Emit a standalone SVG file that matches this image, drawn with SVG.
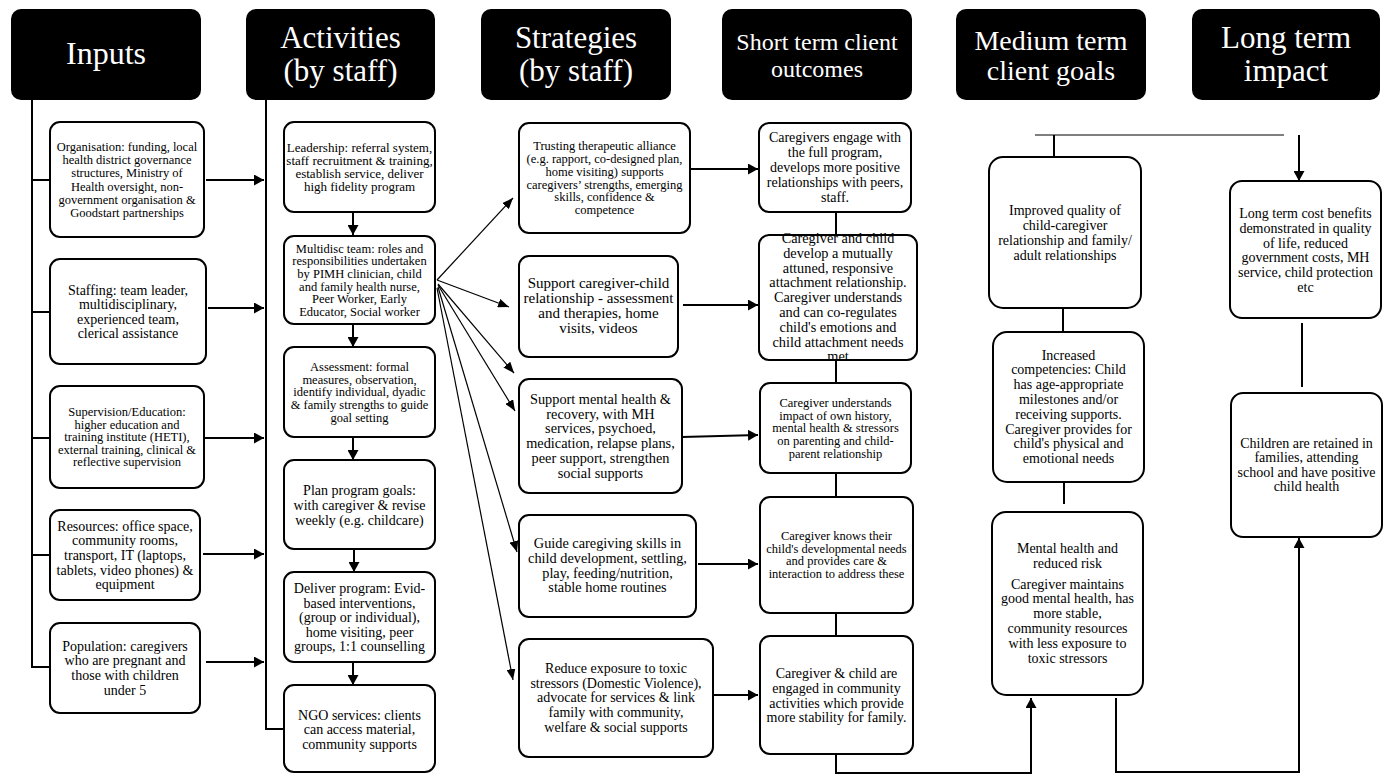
<svg xmlns="http://www.w3.org/2000/svg" width="1389" height="774" viewBox="0 0 1389 774">
<style>
.b{fill:#fff;stroke:#000;stroke-width:2}
.h{fill:#000}
text{font-family:"Liberation Serif","Times New Roman",serif;text-anchor:middle;fill:#000}
.ht{fill:#fff}
.c{fill:none;stroke:#000;stroke-width:2}
.f{fill:none;stroke:#000;stroke-width:1.2}
.g{fill:none;stroke:#000;stroke-width:1}
</style>
<defs>
<marker id="a" viewBox="0 0 10 10" refX="10" refY="5" markerWidth="10" markerHeight="11" markerUnits="userSpaceOnUse" orient="auto" preserveAspectRatio="none"><path d="M0,0 L10,5 L0,10 z"/></marker>
<marker id="s" viewBox="0 0 10 10" refX="10" refY="5" markerWidth="11" markerHeight="9" markerUnits="userSpaceOnUse" orient="auto" preserveAspectRatio="none"><path d="M0,0 L10,5 L0,10 z"/></marker>
</defs>
<rect width="1389" height="774" fill="#fff"/>

<g id="headers">
<g id="h-inputs"><rect class="h" x="11" y="9" width="190" height="91" rx="10"/><text class="ht" font-size="32" x="106" y="64">Inputs</text></g>
<g id="h-activities"><rect class="h" x="246" y="9" width="189" height="91" rx="10"/><text class="ht" font-size="31"><tspan x="340.5" y="48">Activities</tspan><tspan x="340.5" y="81">(by staff)</tspan></text></g>
<g id="h-strategies"><rect class="h" x="481" y="9" width="190" height="91" rx="10"/><text class="ht" font-size="31"><tspan x="576" y="48">Strategies</tspan><tspan x="576" y="81">(by staff)</tspan></text></g>
<g id="h-short"><rect class="h" x="722" y="9" width="190" height="91" rx="10"/><text class="ht" font-size="24"><tspan x="817" y="50">Short term client</tspan><tspan x="817" y="77">outcomes</tspan></text></g>
<g id="h-medium"><rect class="h" x="956" y="9" width="190" height="91" rx="10"/><text class="ht" font-size="28"><tspan x="1051" y="50">Medium term</tspan><tspan x="1051" y="80">client goals</tspan></text></g>
<g id="h-long"><rect class="h" x="1192" y="9" width="188" height="91" rx="10"/><text class="ht" font-size="31"><tspan x="1286" y="48">Long term</tspan><tspan x="1286" y="81">impact</tspan></text></g>
</g>

<g id="connectors">
<path class="c" d="M32,100 V667 H50 M32,180 H50 M32,312 H50 M32,438 H50 M32,555 H50"/>
<path class="c" d="M266,100 V729 H284"/>
<path class="c" marker-end="url(#a)" d="M206,180 H264"/>
<path class="c" marker-end="url(#a)" d="M208,308 H264"/>
<path class="c" marker-end="url(#a)" d="M205,438 H264"/>
<path class="c" marker-end="url(#a)" d="M203,554 H264"/>
<path class="c" marker-end="url(#a)" d="M206,662 H264"/>
<path class="c" marker-end="url(#a)" d="M353,212 V235"/>
<path class="c" marker-end="url(#a)" d="M353,324 V347"/>
<path class="c" marker-end="url(#a)" d="M353,437 V460"/>
<path class="c" marker-end="url(#a)" d="M354,549 V572"/>
<path class="c" marker-end="url(#a)" d="M353,662 V685"/>
<path class="f" marker-end="url(#s)" d="M437,280 L513,198"/>
<path class="f" marker-end="url(#s)" d="M437,280 L509,307"/>
<path class="f" marker-end="url(#s)" d="M438,284 L514,373"/>
<path class="f" marker-end="url(#s)" d="M438,285 L515,411"/>
<path class="f" marker-end="url(#s)" d="M438,287 L517,552"/>
<path class="f" marker-end="url(#s)" d="M437,288 L513,680"/>
<path class="c" marker-end="url(#a)" d="M690,169 H758"/>
<path class="c" marker-end="url(#a)" d="M683,305 H758"/>
<path class="c" marker-end="url(#a)" d="M682,437 L758,435"/>
<path class="c" marker-end="url(#a)" d="M698,564 H758"/>
<path class="c" marker-end="url(#a)" d="M713,695 H758"/>
<path class="c" d="M836,212 V235 M836,360 V383 M836,473 V497 M836,613 V636"/>
<path class="c" marker-end="url(#a)" d="M836,754 V773 H1031 V698"/>
<path class="c" marker-end="url(#a)" d="M1116,698 V772 H1299 V538"/>
<path class="g" d="M1035,135 H1284"/>
<path class="c" d="M1054,135 V157"/>
<path class="c" marker-end="url(#a)" d="M1299,135 V181"/>
<path class="c" d="M1063,308 V332 M1064,482 V504 M1302,323 V387"/>
</g>

<g id="n-org"><rect class="b" x="50" y="122" width="154" height="115" rx="10"/><text font-size="12.5"><tspan x="127" y="150.8">Organisation: funding, local</tspan><tspan x="127" y="164.1">health district governance</tspan><tspan x="127" y="177.4">structures, Ministry of</tspan><tspan x="127" y="190.7">Health oversight, non-</tspan><tspan x="127" y="204">government organisation &amp;</tspan><tspan x="127" y="217.3">Goodstart partnerships</tspan></text></g>
<g id="n-staffing"><rect class="b" x="50" y="259" width="156" height="105" rx="10"/><text font-size="14"><tspan x="128" y="294.6">Staffing: team leader,</tspan><tspan x="128" y="309.1">multidisciplinary,</tspan><tspan x="128" y="323.6">experienced team,</tspan><tspan x="128" y="338.1">clerical assistance</tspan></text></g>
<g id="n-supervision"><rect class="b" x="50" y="386" width="154" height="102" rx="10"/><text font-size="12.5"><tspan x="127" y="416.4">Supervision/Education:</tspan><tspan x="127" y="428.9">higher education and</tspan><tspan x="127" y="441.4">training institute (HETI),</tspan><tspan x="127" y="453.9">external training, clinical &amp;</tspan><tspan x="127" y="466.4">reflective supervision</tspan></text></g>
<g id="n-resources"><rect class="b" x="50" y="510" width="150" height="90" rx="10"/><text font-size="14"><tspan x="125" y="530.6">Resources: office space,</tspan><tspan x="125" y="545.3">community rooms,</tspan><tspan x="125" y="560">transport, IT (laptops,</tspan><tspan x="125" y="574.7">tablets, video phones) &amp;</tspan><tspan x="125" y="589.4">equipment</tspan></text></g>
<g id="n-population"><rect class="b" x="50" y="623" width="150" height="90" rx="10"/><text font-size="14"><tspan x="125" y="650.6">Population: caregivers</tspan><tspan x="125" y="665.3">who are pregnant and</tspan><tspan x="125" y="680">those with children</tspan><tspan x="125" y="694.7">under 5</tspan></text></g>

<g id="n-leadership"><rect class="b" x="284" y="122" width="151" height="90" rx="10"/><text font-size="13"><tspan x="359.5" y="151.8">Leadership: referral system,</tspan><tspan x="359.5" y="164.8">staff recruitment &amp; training,</tspan><tspan x="359.5" y="177.8">establish service, deliver</tspan><tspan x="359.5" y="190.8">high fidelity program</tspan></text></g>
<g id="n-multidisc"><rect class="b" x="284" y="236" width="151" height="88" rx="10"/><text font-size="12.5"><tspan x="359.5" y="252.6">Multidisc team: roles and</tspan><tspan x="359.5" y="265.3">responsibilities undertaken</tspan><tspan x="359.5" y="278">by PIMH clinician, child</tspan><tspan x="359.5" y="290.7">and family health nurse,</tspan><tspan x="359.5" y="303.4">Peer Worker, Early</tspan><tspan x="359.5" y="316.1">Educator, Social worker</tspan></text></g>
<g id="n-assessment"><rect class="b" x="284" y="347" width="151" height="90" rx="10"/><text font-size="12.5"><tspan x="359.5" y="370.8">Assessment: formal</tspan><tspan x="359.5" y="383.6">measures, observation,</tspan><tspan x="359.5" y="396.3">identify individual, dyadic</tspan><tspan x="359.5" y="409.1">&amp; family strengths to guide</tspan><tspan x="359.5" y="421.8">goal setting</tspan></text></g>
<g id="n-plan"><rect class="b" x="284" y="460" width="151" height="89" rx="10"/><text font-size="14"><tspan x="359.5" y="494.6">Plan program goals:</tspan><tspan x="359.5" y="509.6">with caregiver &amp; revise</tspan><tspan x="359.5" y="524.6">weekly (e.g. childcare)</tspan></text></g>
<g id="n-deliver"><rect class="b" x="284" y="572" width="151" height="90" rx="10"/><text font-size="14"><tspan x="359.5" y="592.9">Deliver program: Evid-</tspan><tspan x="359.5" y="607.5">based interventions,</tspan><tspan x="359.5" y="622.1">(group or individual),</tspan><tspan x="359.5" y="636.7">home visiting, peer</tspan><tspan x="359.5" y="651.3">groups, 1:1 counselling</tspan></text></g>
<g id="n-ngo"><rect class="b" x="284" y="685" width="151" height="87" rx="10"/><text font-size="14"><tspan x="359.5" y="719.6">NGO services: clients</tspan><tspan x="359.5" y="734.3">can access material,</tspan><tspan x="359.5" y="749">community supports</tspan></text></g>

<g id="n-trusting"><rect class="b" x="519" y="123" width="171" height="110" rx="10"/><text font-size="12.5"><tspan x="604.5" y="149.8">Trusting therapeutic alliance</tspan><tspan x="604.5" y="162.7">(e.g. rapport, co-designed plan,</tspan><tspan x="604.5" y="175.6">home visiting) supports</tspan><tspan x="604.5" y="188.5">caregivers’ strengths, emerging</tspan><tspan x="604.5" y="201.4">skills, confidence &amp;</tspan><tspan x="604.5" y="214.3">competence</tspan></text></g>
<g id="n-relationship"><rect class="b" x="519" y="256" width="159" height="101" rx="10"/><text font-size="15"><tspan x="598.5" y="288.3">Support caregiver-child</tspan><tspan x="598.5" y="303.3">relationship - assessment</tspan><tspan x="598.5" y="318.3">and therapies, home</tspan><tspan x="598.5" y="333.3">visits, videos</tspan></text></g>
<g id="n-mental"><rect class="b" x="519" y="379" width="163" height="114" rx="10"/><text font-size="14.3"><tspan x="600.5" y="403.7">Support mental health &amp;</tspan><tspan x="600.5" y="418.6">recovery, with MH</tspan><tspan x="600.5" y="433.4">services, psychoed,</tspan><tspan x="600.5" y="448.3">medication, relapse plans,</tspan><tspan x="600.5" y="463.1">peer support, strengthen</tspan><tspan x="600.5" y="478">social supports</tspan></text></g>
<g id="n-guide"><rect class="b" x="519" y="515" width="177" height="102" rx="10"/><text font-size="14.3"><tspan x="607.5" y="548">Guide caregiving skills in</tspan><tspan x="607.5" y="562.8">child development, settling,</tspan><tspan x="607.5" y="577.6">play, feeding/nutrition,</tspan><tspan x="607.5" y="592.4">stable home routines</tspan></text></g>
<g id="n-reduce"><rect class="b" x="519" y="639" width="194" height="118" rx="10"/><text font-size="14"><tspan x="616" y="672.9">Reduce exposure to toxic</tspan><tspan x="616" y="687.7">stressors (Domestic Violence),</tspan><tspan x="616" y="702.4">advocate for services &amp; link</tspan><tspan x="616" y="717.2">family with community,</tspan><tspan x="616" y="731.9">welfare &amp; social supports</tspan></text></g>

<g id="n-engage"><rect class="b" x="759" y="123" width="152" height="89" rx="10"/><text font-size="14"><tspan x="835" y="142.3">Caregivers engage with</tspan><tspan x="835" y="157.2">the full program,</tspan><tspan x="835" y="172.1">develops more positive</tspan><tspan x="835" y="187">relationships with peers,</tspan><tspan x="835" y="201.9">staff.</tspan></text></g>
<g id="n-attuned"><rect class="b" x="759" y="235" width="158" height="125" rx="10"/><text font-size="14.3"><tspan x="838" y="243">Caregiver and child</tspan><tspan x="838" y="257.8">develop a mutually</tspan><tspan x="838" y="272.6">attuned, responsive</tspan><tspan x="838" y="287.4">attachment relationship.</tspan><tspan x="838" y="302.2">Caregiver understands</tspan><tspan x="838" y="317">and can co-regulates</tspan><tspan x="838" y="331.8">child's emotions and</tspan><tspan x="838" y="346.6">child attachment needs</tspan><tspan x="838" y="361.4">met</tspan></text></g>
<g id="n-understands"><rect class="b" x="760" y="383" width="151" height="90" rx="10"/><text font-size="12.5"><tspan x="835.5" y="406.8">Caregiver understands</tspan><tspan x="835.5" y="419.6">impact of own history,</tspan><tspan x="835.5" y="432.4">mental health &amp; stressors</tspan><tspan x="835.5" y="445.2">on parenting and child-</tspan><tspan x="835.5" y="458">parent relationship</tspan></text></g>
<g id="n-knows"><rect class="b" x="760" y="497" width="153" height="116" rx="10"/><text font-size="12.5"><tspan x="836.5" y="539.8">Caregiver knows their</tspan><tspan x="836.5" y="552.6">child's developmental needs</tspan><tspan x="836.5" y="565.4">and provides care &amp;</tspan><tspan x="836.5" y="578.2">interaction to address these</tspan></text></g>
<g id="n-engaged"><rect class="b" x="760" y="636" width="153" height="118" rx="10"/><text font-size="14"><tspan x="836.5" y="677.9">Caregiver &amp; child are</tspan><tspan x="836.5" y="692.7">engaged in community</tspan><tspan x="836.5" y="707.5">activities which provide</tspan><tspan x="836.5" y="722.3">more stability for family.</tspan></text></g>

<g id="n-improved"><rect class="b" x="989" y="157" width="152" height="151" rx="14"/><text font-size="14"><tspan x="1065" y="215.3">Improved quality of</tspan><tspan x="1065" y="230.1">child-caregiver</tspan><tspan x="1065" y="244.9">relationship and family/</tspan><tspan x="1065" y="259.7">adult relationships</tspan></text></g>
<g id="n-competencies"><rect class="b" x="993" y="332" width="151" height="150" rx="14"/><text font-size="14"><tspan x="1068.5" y="359.6">Increased</tspan><tspan x="1068.5" y="374.4">competencies: Child</tspan><tspan x="1068.5" y="389.2">has age-appropriate</tspan><tspan x="1068.5" y="404">milestones and/or</tspan><tspan x="1068.5" y="418.8">receiving supports.</tspan><tspan x="1068.5" y="433.6">Caregiver provides for</tspan><tspan x="1068.5" y="448.4">child's physical and</tspan><tspan x="1068.5" y="463.2">emotional needs</tspan></text></g>
<g id="n-mentalhealth"><rect class="b" x="992" y="512" width="151" height="183" rx="14"/><text font-size="14"><tspan x="1067.5" y="552.9">Mental health and</tspan><tspan x="1067.5" y="567.7">reduced risk</tspan><tspan x="1067.5" y="588.6">Caregiver maintains</tspan><tspan x="1067.5" y="603.4">good mental health, has</tspan><tspan x="1067.5" y="618.2">more stable,</tspan><tspan x="1067.5" y="633">community resources</tspan><tspan x="1067.5" y="647.8">with less exposure to</tspan><tspan x="1067.5" y="662.6">toxic stressors</tspan></text></g>

<g id="n-cost"><rect class="b" x="1230" y="181" width="151" height="137" rx="12"/><text font-size="14"><tspan x="1305.5" y="217.9">Long term cost benefits</tspan><tspan x="1305.5" y="232.7">demonstrated in quality</tspan><tspan x="1305.5" y="247.5">of life, reduced</tspan><tspan x="1305.5" y="262.3">government costs, MH</tspan><tspan x="1305.5" y="277.1">service, child protection</tspan><tspan x="1305.5" y="291.9">etc</tspan></text></g>
<g id="n-children"><rect class="b" x="1231" y="393" width="151" height="144" rx="12"/><text font-size="14"><tspan x="1306.5" y="447.9">Children are retained in</tspan><tspan x="1306.5" y="462.4">families, attending</tspan><tspan x="1306.5" y="476.9">school and have positive</tspan><tspan x="1306.5" y="491.4">child health</tspan></text></g>
</svg>
